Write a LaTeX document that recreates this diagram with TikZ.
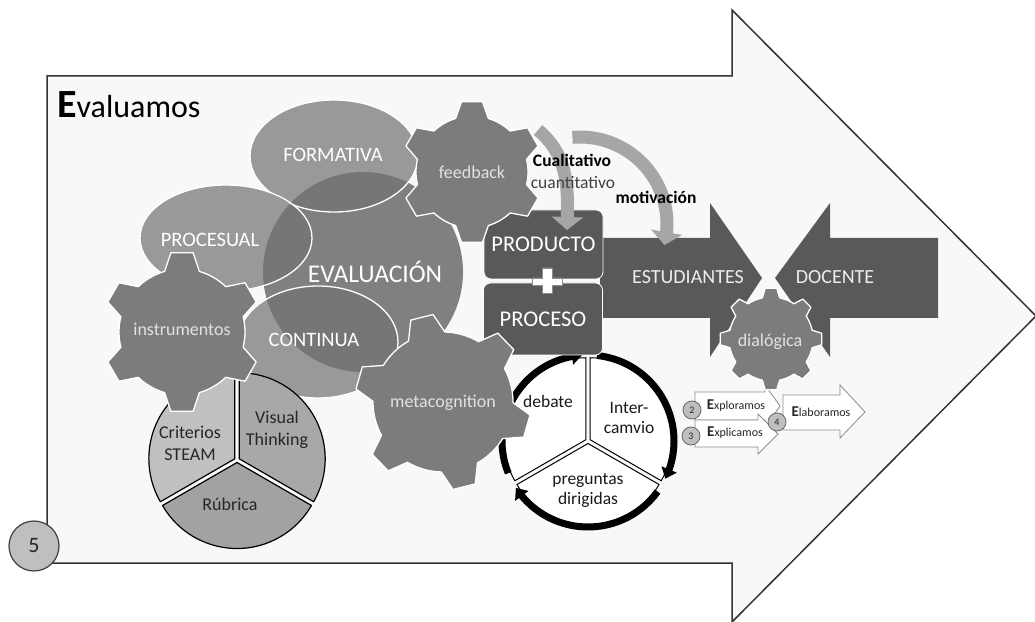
\documentclass[tikz,border=0pt]{standalone}
\usepackage{fontspec}
\setmainfont{Carlito}
\usepackage{tikz}
\usetikzlibrary{arrows.meta, bending, positioning, calc}

\definecolor{arrowbg}{HTML}{F8F8F8}
\definecolor{evalgray}{HTML}{808080}
\definecolor{ovalgray}{HTML}{727272}
\definecolor{geargray}{HTML}{7C7C7C}
\definecolor{boxgray}{HTML}{595959}
\definecolor{bandgray}{HTML}{A6A6A6}
\definecolor{pieA}{HTML}{C0C0C0}
\definecolor{pieB}{HTML}{A8A8A8}
\definecolor{pieC}{HTML}{A2A2A2}
\definecolor{numgray}{HTML}{BFBFBF}
\definecolor{gtext}{HTML}{E2E2E2}
\definecolor{darktext}{HTML}{262626}

% center, teeth, body radius, tip radius, rotation, base half angle, tip half angle
\newcommand{\drawgear}[7]{%
  \begin{scope}[shift={(#1)}, rotate=#5]
    \pgfmathtruncatemacro{\gstep}{360/#2}
    \pgfmathtruncatemacro{\glast}{360-\gstep}
    \draw[gear] (-#6:#3) \foreach \a in {0,\gstep,...,\glast} {
      -- ({\a-#6}:#3) -- ({\a-#7}:#4) -- ({\a+#7}:#4) -- ({\a+#6}:#3)
      arc[start angle=\a+#6, end angle=\a+\gstep-#6, radius=#3]} -- cycle;
  \end{scope}}

\begin{document}
\begin{tikzpicture}[x=1pt, y=1pt,
    oval/.style={fill=ovalgray, fill opacity=0.7, draw=white, line width=1.3pt},
    ovaltext/.style={text=white, font=\fontsize{20.5}{20.5}\selectfont},
    gear/.style={fill=geargray, draw=white, line width=1.3pt, line join=round},
    geartext/.style={text=gtext, font=\fontsize{18}{18}\selectfont},
    pieline/.style={draw=black, line width=1.2pt, line join=round},
    pietext/.style={text=darktext, align=center, font=\fontsize{18}{22}\selectfont},
    cyctext/.style={text=black!90, align=center, font=\fontsize{17.5}{20}\selectfont},
    cycarrow/.style={line width=7pt, -{Triangle[width=16pt,length=10pt]}},
    box/.style={fill=boxgray, draw=white, line width=0.8pt, rounded corners=7pt,
      text=white, inner sep=0pt, minimum width=119pt, font=\fontsize{22.5}{22.5}\selectfont},
    bandtext/.style={text=white!93!black, font=\fontsize{20}{20}\selectfont},
    band/.style={draw=bandgray, line width=13pt, -{Triangle[width=31pt,length=13pt]}},
    smallarrow/.style={fill=white, draw=black!45, line width=0.8pt},
    numcirc/.style={circle, fill=numgray, draw=black!60, line width=0.8pt, minimum size=18pt,
      inner sep=0pt, text=darktext, font=\fontsize{10}{10}\selectfont}
  ]
  \useasboundingbox (0,0) rectangle (1035,621);

  % big arrow
  \draw[fill=arrowbg, draw=black!80, line width=1.5pt] (47,545) -- (732,545) -- (732,611)
    -- (1036,305) -- (732,-1) -- (732,58) -- (47,58) -- cycle;
  \node[anchor=base west, inner sep=0pt] (title) at (57,503)
    {\fontsize{40}{40}\selectfont\bfseries E\fontsize{32}{32}\mdseries\selectfont valuamos};

  % evaluacion
  \fill[evalgray] (363,349) circle[radius=100];
  \draw[oval] (334,465) ellipse[x radius=84, y radius=56];
  \draw[oval] (226,383) ellipse[x radius=86, y radius=53];
  \draw[oval] (318,279) ellipse[x radius=80, y radius=56];
  \node[ovaltext] (formativa) at (333,466) {FORMATIVA};
  \node[ovaltext] (procesual) at (210,381) {PROCESUAL};
  \node[ovaltext] (continua) at (314,281) {CONTINUA};
  \node[text=white, font=\fontsize{25.5}{25.5}\selectfont] (evaluacion) at (375,349) {EVALUACIÓN};

  % instrumentos pie
  \coordinate (pie) at (237,161);
  \draw[pieline, fill=pieA] ($(pie)+(150:2.5)$) -- ++(90:86) arc[start angle=90, end angle=210, radius=86] -- cycle;
  \draw[pieline, fill=pieB] ($(pie)+(30:2.5)$) -- ++(-30:86) arc[start angle=-30, end angle=90, radius=86] -- cycle;
  \draw[pieline, fill=pieC] ($(pie)+(270:2.5)$) -- ++(210:86) arc[start angle=210, end angle=330, radius=86] -- cycle;
  \node[pietext] (criterios) at (190,178) {Criterios\\STEAM};
  \node[pietext] (visual) at (277,191) {Visual\\Thinking};
  \node[pietext] (rubrica) at (230,117) {Rúbrica};

  % ciclo
  \coordinate (cyc) at (588,180);
  \draw[fill=white, draw=black, line width=1pt] ($(cyc)+(150:2.5)$) -- ++(90:82) arc[start angle=90, end angle=210, radius=82] -- cycle;
  \draw[fill=white, draw=black, line width=1pt] ($(cyc)+(30:2.5)$) -- ++(-30:82) arc[start angle=-30, end angle=90, radius=82] -- cycle;
  \draw[fill=white, draw=black, line width=1pt] ($(cyc)+(270:2.5)$) -- ++(210:82) arc[start angle=210, end angle=330, radius=82] -- cycle;
  \draw[cycarrow] ($(cyc)+(202:86)$) arc[start angle=202, end angle=94, radius=86];
  \draw[cycarrow] ($(cyc)+(84:86)$) arc[start angle=84, end angle=-26, radius=86];
  \draw[cycarrow] ($(cyc)+(-36:86)$) arc[start angle=-36, end angle=-147, radius=86];
  \node[cyctext] (debate) at (548,220) {debate};
  \node[cyctext] (intercambio) at (629,203) {Inter-\\camvio};
  \node[cyctext] (preguntas) at (588,131) {preguntas\\dirigidas};

  % estudiantes - docente
  \fill[boxgray] (600,383) -- (710,383) -- (710,418) -- (762,343) -- (710,264) -- (710,303) -- (600,303) -- cycle;
  \fill[boxgray] (938,383) -- (830,383) -- (830,418) -- (775,343) -- (830,264) -- (830,303) -- (938,303) -- cycle;
  \node[bandtext] (estudiantes) at (688,344) {ESTUDIANTES};
  \node[bandtext] (docente) at (835,344) {DOCENTE};

  % producto + proceso
  \node[box, minimum height=69pt] (producto) at (543.5,376.5) {PRODUCTO};
  \node[box, minimum height=72pt] (proceso) at (543,302) {PROCESO};
  \draw[fill=white, draw=black!45, line width=0.6pt] (542,353) -- (552,353) -- (552,343) -- (562,343)
    -- (562,336) -- (552,336) -- (552,328) -- (542,328) -- (542,336) -- (532,336) -- (532,343)
    -- (542,343) -- cycle;

  % feedback arrows
  \coordinate (fb1) at (538,491);
  \coordinate (fb1end) at (567,391);
  \coordinate (fb2) at ($(580,397)+(95:87)$);
  \draw[band] (fb1) to[out=-40, in=88] (fb1end);
  \draw[band] (fb2) arc[start angle=95, end angle=-14, radius=87];
  \node[font=\fontsize{17.5}{17.5}\selectfont\bfseries] (cualitativo) at (572,461) {Cualitativo};
  \node[text=black!75, font=\fontsize{17.5}{17.5}\selectfont] (cuantitativo) at (573,438) {cuantitativo};
  \node[font=\fontsize{17.5}{17.5}\selectfont\bfseries] (motivacion) at (656,424) {motivación};

  % fases
  \draw[smallarrow] (695,229) -- (765,229) -- (765,236) -- (780,215) -- (765,194) -- (765,201) -- (695,201) -- cycle;
  \draw[smallarrow] (695,201) -- (758,201) -- (758,207) -- (778,187) -- (758,167) -- (758,174) -- (695,174) -- cycle;
  \draw[smallarrow] (783,226) -- (840,226) -- (840,236) -- (865,209) -- (840,183) -- (840,191) -- (783,191) -- cycle;
  \node[text=darktext] (explor) at (736,215)
    {\fontsize{15}{15}\selectfont\bfseries E\fontsize{12}{12}\mdseries\selectfont xploramos};
  \node[text=darktext] (explic) at (735,188)
    {\fontsize{15}{15}\selectfont\bfseries E\fontsize{12}{12}\mdseries\selectfont xplicamos};
  \node[text=darktext] (elabor) at (821,209)
    {\fontsize{15}{15}\selectfont\bfseries E\fontsize{12}{12}\mdseries\selectfont laboramos};
  \node[numcirc] (n2) at (692,211) {2};
  \node[numcirc] (n3) at (691,185) {3};
  \node[numcirc] (n4) at (777,199) {4};

  % gears
  \drawgear{472,449}{6}{56}{71}{90}{17}{8.5}
  \node[geartext] (feedback) at (472,449) {feedback};
  \drawgear{182,289}{6}{63}{80}{90}{16}{8}
  \node[geartext] (instrumentos) at (182,292) {instrumentos};
  \drawgear{443,219}{6}{70}{88}{44}{15.5}{7.5}
  \node[geartext] (metacog) at (443,218) {metacognition};
  \drawgear{771,282}{8}{42}{51}{90}{12}{6.5}
  \node[geartext] (dialogica) at (770,279) {dialógica};

  \node[circle, fill=numgray, draw=black!75, line width=1.2pt, minimum size=50pt, inner sep=0pt,
    text=darktext, font=\fontsize{22}{22}\selectfont] (n5) at (34,75) {5};
\end{tikzpicture}
\end{document}
